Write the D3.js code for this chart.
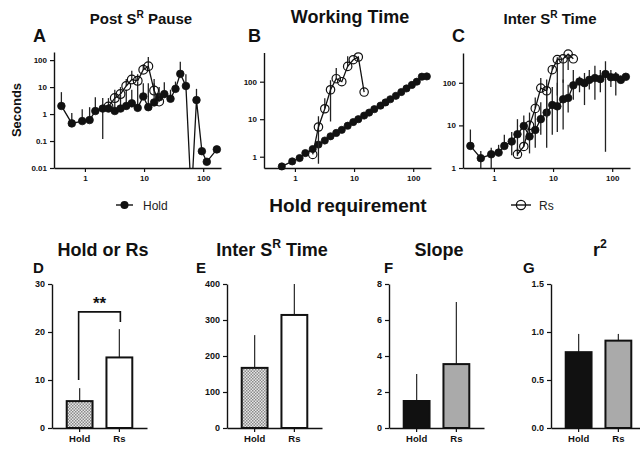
<!DOCTYPE html>
<html><head><meta charset="utf-8">
<script src="https://cdn.jsdelivr.net/npm/d3@7"></script>
<style>html,body{margin:0;padding:0;background:#fff;} svg{display:block;}</style>
</head><body>
<svg id="chart" width="640" height="449"></svg>
<script>
// ---------- DATA ----------
const holdX = [0.4,0.6,0.9,1.2,1.5,2,2.5,3.2,4,5,6.2,7.8,9.7,11.8,14.8,18,22,28,34,41,51,63,77,95,115,140,170];
const rsX   = [2,2.5,3.2,4,5,6.2,7.8,9.7,11.8,14.8,18,22];

// Panel A: Post SR Pause (seconds)
const pauseHold   = [2.0,0.45,0.55,0.6,1.3,1.6,1.6,1.3,1.6,2.0,2.5,1.7,4.5,1.8,2.7,4.2,5.5,3.7,8.6,31,11,0,3.3,0.042,0.017,null,0.049];
const pauseHoldHi = [6.5,1.1,1.5,1.8,4.2,3.9,3.9,6,5.2,8,8,16,14,14,14,10,15,8,16,87,30,null,8.6,null,null,null,null];
const pauseHoldLo = [null,null,null,null,null,0.12,null,null,null,null,null,null,null,null,null,null,null,null,null,null,null,null,null,null,null,null,null];
const pauseRs     = [null,1.9,3.9,5.5,11,19,17,44,59,7.4,2.9,null];
const pauseRsHi   = [null,null,8,10,20,40,30,70,130,20,6,null];
const pauseRsLo   = [null,null,null,null,null,null,null,null,null,null,null,null];

// Panel B: Working Time
const workHold   = [null,0.55,0.75,0.92,1.25,1.6,2.1,2.7,3.5,4.3,5.2,6.7,8.4,10,12.5,15,18.5,23,28,34,42,53,66,82,100,136,138];
const workHoldHi = [null,null,null,null,null,null,null,null,null,null,null,null,null,null,null,null,null,null,null,null,null,null,null,null,null,null,null];
const workHoldLo = [null,null,null,null,null,null,null,null,null,null,null,null,null,null,null,null,null,null,null,null,null,null,null,null,null,null,null];
const workRs     = [1.15,6.2,19,61,120,100,256,385,455,53,null,null];
const workRsHi   = [null,12,36,110,230,null,480,null,null,null,null,null];
const workRsLo   = [null,0.65,null,8.7,null,null,null,null,null,null,null,null];

// Panel C: Inter SR Time
const interHold   = [3.3,1.7,2.1,2.3,3.3,4.2,6.2,9.7,5.5,7.8,14,20,30,28,41,44,87,107,98,117,129,122,160,135,135,117,138];
const interHoldHi = [8,2.5,3,3.5,6,7,14,17,13,20,35,60,80,100,120,90,200,140,170,200,250,200,320,200,180,150,150];
const interHoldLo = [null,1,1,null,null,2,1.9,4,2.2,3,6,3,6,7,8,20,40,60,30,70,40,60,2.4,80,50,null,null];
const interRs     = [null,2.1,3.2,10,25,75,65,203,350,365,470,365];
const interRsHi   = [null,3,4,20,45,130,120,250,400,null,null,null];
const interRsLo   = [null,null,null,null,null,null,15,null,50,100,200,null];

// Bar panels
const groups = ["Hold","Rs"];
const holdOrRs = [5.6,14.7],   holdOrRsErr = [2.7,5.9];
const interTime = [167,314],   interTimeErr = [91,86];
const slope = [1.5,3.55],      slopeErr = [1.5,3.45];
const rSquared = [0.79,0.91],  rSquaredErr = [0.19,0.07];

const logTicksA = [0.01,0.1,1,10,100], logLabelsA = ["0.01","0.1","1","10","100"];
const logTicksBC = [1,10,100],        logLabelsBC = ["1","10","100"];
const xTicks = [1,10,100],            xLabels = ["1","10","100"];

// ---------- DRAW ----------
const FONT = "'Liberation Sans', Arial, Helvetica, sans-serif";
const svg = d3.select('#chart').style('font-family', FONT);
const defs = svg.append('defs');

const pat = defs.append('pattern').attr('id','checker').attr('patternUnits','userSpaceOnUse')
  .attr('width',3).attr('height',3);
pat.append('rect').attr('width',3).attr('height',3).attr('fill','#e6e6e6');
pat.append('rect').attr('width',1.5).attr('height',1.5).attr('fill','#8a8a8a');
pat.append('rect').attr('x',1.5).attr('y',1.5).attr('width',1.5).attr('height',1.5).attr('fill','#8a8a8a');

function styleAxis(g, size) {
  g.select('.domain').attr('stroke','#111').attr('stroke-width',1.4);
  g.selectAll('.tick line').attr('stroke','#111').attr('stroke-width',1.2);
  g.selectAll('.tick text').attr('fill','#111').style('font-family',FONT)
    .style('font-weight','bold').style('font-size', size + 'px');
}

function supText(x, y, size, parts, anchor) {
  const t = svg.append('text').attr('x',x).attr('y',y).attr('text-anchor',anchor||'middle')
    .style('font-weight','bold').style('font-size',size+'px').attr('fill','#111');
  parts.forEach(p => {
    if (p.sup) {
      t.append('tspan').text(p.t).style('font-size',(size*0.68)+'px').attr('dy', -size*0.42);
    } else {
      t.append('tspan').text(p.t).attr('dy', p.after ? size*0.42 : 0);
    }
  });
  return t;
}

let clipN = 0;
function logPanel(cfg) {
  const x = d3.scaleLog().domain([0.3,200]).range([cfg.x0, cfg.x0 + 167]);
  const y = d3.scaleLog().domain(cfg.yDom).range([168, cfg.yTop]);
  const bottom = 168;
  const id = 'clip' + (clipN++);
  defs.append('clipPath').attr('id', id).append('rect')
    .attr('x', cfg.x0).attr('y', cfg.yTop - 10).attr('width', 180).attr('height', bottom - cfg.yTop + 10);
  const g = svg.append('g');

  const ax = g.append('g').attr('transform',`translate(0,${bottom})`)
    .call(d3.axisBottom(x).tickValues(xTicks).tickFormat((d,i)=>xLabels[i]).tickSize(4).tickSizeOuter(0));
  styleAxis(ax, 8);
  const ay = g.append('g').attr('transform',`translate(${cfg.x0},0)`)
    .call(d3.axisLeft(y).tickValues(cfg.yTicks).tickFormat((d,i)=>cfg.yLabels[i]).tickSize(4).tickSizeOuter(0));
  styleAxis(ay, 8);

  const yPos = v => v > 0 ? y(v) : bottom + 30;

  cfg.series.forEach(s => {
    const pts = s.xs.map((xv,i) => ({x:xv, v:s.v[i], hi:s.hi[i], lo:s.lo[i]})).filter(d => d.v !== null);
    const sg = g.append('g').attr('clip-path', `url(#${id})`);
    pts.forEach(d => {
      if (d.hi !== null && d.hi !== undefined)
        sg.append('line').attr('x1',x(d.x)).attr('x2',x(d.x)).attr('y1',yPos(d.v)).attr('y2',y(d.hi))
          .attr('stroke','#222').attr('stroke-width',1.3);
      if (d.lo !== null && d.lo !== undefined)
        sg.append('line').attr('x1',x(d.x)).attr('x2',x(d.x)).attr('y1',yPos(d.v)).attr('y2',y(d.lo))
          .attr('stroke','#222').attr('stroke-width',1.3);
    });
    sg.append('path').datum(pts)
      .attr('d', d3.line().x(d => x(d.x)).y(d => yPos(d.v)))
      .attr('fill','none').attr('stroke','#111').attr('stroke-width',1.3);
    const mg = g.append('g');
    mg.selectAll('circle').data(pts.filter(d => d.v > 0)).join('circle')
      .attr('cx', d => x(d.x)).attr('cy', d => y(d.v))
      .attr('r', s.open ? cfg.rOpen : cfg.rFill)
      .attr('fill', s.open ? 'none' : '#111')
      .attr('stroke','#111').attr('stroke-width', s.open ? 1.2 : 0.8);
  });
}

logPanel({x0:54, yDom:[0.01,200], yTop:52, yTicks:logTicksA, yLabels:logLabelsA, rFill:3.8, rOpen:4.4,
  series:[
    {xs:holdX, v:pauseHold, hi:pauseHoldHi, lo:pauseHoldLo, open:false},
    {xs:rsX, v:pauseRs, hi:pauseRsHi, lo:pauseRsLo, open:true}
  ]});
logPanel({x0:264, yDom:[0.5,600], yTop:52.5, yTicks:logTicksBC, yLabels:logLabelsBC, rFill:3.6, rOpen:4.2,
  series:[
    {xs:holdX, v:workHold, hi:workHoldHi, lo:workHoldLo, open:false},
    {xs:rsX, v:workRs, hi:workRsHi, lo:workRsLo, open:true}
  ]});
logPanel({x0:463, yDom:[1,500], yTop:53, yTicks:logTicksBC, yLabels:logLabelsBC, rFill:3.8, rOpen:4.2,
  series:[
    {xs:holdX, v:interHold, hi:interHoldHi, lo:interHoldLo, open:false},
    {xs:rsX, v:interRs, hi:interRsHi, lo:interRsLo, open:true}
  ]});

// Titles top
supText(141, 24, 15, [{t:'Post S'},{t:'R',sup:true},{t:' Pause',after:true}]);
supText(350, 23, 18, [{t:'Working Time'}]);
supText(550, 24, 15, [{t:'Inter S'},{t:'R',sup:true},{t:' Time',after:true}]);
supText(33, 42, 18, [{t:'A'}], 'start');
supText(248, 42, 18, [{t:'B'}], 'start');
supText(452, 42, 18, [{t:'C'}], 'start');
svg.append('text').attr('transform','translate(21,110) rotate(-90)').attr('text-anchor','middle')
  .style('font-weight','bold').style('font-size','13px').attr('fill','#111').text('Seconds');

// Legend + x title
const lg = svg.append('g');
lg.append('line').attr('x1',116).attr('x2',133).attr('y1',205).attr('y2',205).attr('stroke','#111').attr('stroke-width',1.4);
lg.append('circle').attr('cx',124.5).attr('cy',205).attr('r',4).attr('fill','#111');
lg.append('text').attr('x',143).attr('y',209.5).style('font-size','12px').attr('fill','#222').text('Hold');
lg.append('line').attr('x1',511).attr('x2',531).attr('y1',205).attr('y2',205).attr('stroke','#111').attr('stroke-width',1.4);
lg.append('circle').attr('cx',521).attr('cy',205).attr('r',4.6).attr('fill','none').attr('stroke','#111').attr('stroke-width',1.3);
lg.append('text').attr('x',539).attr('y',209.5).style('font-size','12px').attr('fill','#222').text('Rs');
supText(348, 212, 19, [{t:'Hold requirement'}]);

// ---------- BAR PANELS ----------
function barPanel(cfg) {
  const y = d3.scaleLinear().domain([0, cfg.max]).range([428, 284]);
  const x = d3.scaleBand().domain(groups).range([cfg.x0, cfg.x0 + 95]).paddingInner(0.35).paddingOuter(0.37);
  const g = svg.append('g');
  groups.forEach((k,i) => {
    g.append('line').attr('x1', x(k)+x.bandwidth()/2).attr('x2', x(k)+x.bandwidth()/2)
      .attr('y1', y(cfg.values[i])).attr('y2', y(cfg.values[i] + cfg.errs[i]))
      .attr('stroke','#333').attr('stroke-width',1.3);
  });
  g.selectAll('rect.bar').data(groups).join('rect').attr('class','bar')
    .attr('x', k => x(k)).attr('width', x.bandwidth())
    .attr('y', (k,i) => y(cfg.values[i])).attr('height', (k,i) => 428 - y(cfg.values[i]))
    .attr('fill', (k,i) => cfg.fills[i]).attr('stroke','#111').attr('stroke-width',2);
  const ay = g.append('g').attr('transform',`translate(${cfg.x0},0)`)
    .call(d3.axisLeft(y).tickValues(cfg.ticks).tickFormat((d,i)=>cfg.labels[i]).tickSize(4).tickSizeOuter(0));
  styleAxis(ay, 9);
  const ax = g.append('g').attr('transform','translate(0,428)')
    .call(d3.axisBottom(x).tickSize(4).tickSizeOuter(0).tickPadding(3));
  styleAxis(ax, 9.5);
  return {x, y, g};
}

const D = barPanel({x0:52, max:30, ticks:[0,10,20,30], labels:["0","10","20","30"],
  values:holdOrRs, errs:holdOrRsErr, fills:['url(#checker)','#fff']});
barPanel({x0:227, max:400, ticks:[0,100,200,300,400], labels:["0","100","200","300","400"],
  values:interTime, errs:interTimeErr, fills:['url(#checker)','#fff']});
barPanel({x0:389, max:8, ticks:[0,2,4,6,8], labels:["0","2","4","6","8"],
  values:slope, errs:slopeErr, fills:['#111','#aaaaaa']});
barPanel({x0:551, max:1.5, ticks:[0,0.5,1,1.5], labels:["0.0","0.5","1.0","1.5"],
  values:rSquared, errs:rSquaredErr, fills:['#111','#aaaaaa']});

// significance bracket in D
const bx1 = D.x('Hold') + D.x.bandwidth()/2 - 1, bx2 = D.x('Rs') + D.x.bandwidth()/2 + 1;
D.g.append('path')
  .attr('d', `M${bx1},${D.y(10)}V${D.y(24.2)}H${bx2}V${D.y(22.1)}`)
  .attr('fill','none').attr('stroke','#111').attr('stroke-width',1.6);
D.g.append('text').attr('x',(bx1+bx2)/2).attr('y',D.y(24.2)-3).attr('text-anchor','middle')
  .style('font-weight','bold').style('font-size','17px').attr('fill','#111').text('**');

// bottom titles
supText(103, 256, 18, [{t:'Hold or Rs'}]);
supText(272, 256, 18, [{t:'Inter S'},{t:'R',sup:true},{t:' Time',after:true}]);
supText(439, 256, 18, [{t:'Slope'}]);
supText(600, 256, 18, [{t:'r'},{t:'2',sup:true}]);
supText(33, 273, 15, [{t:'D'}], 'start');
supText(196, 273, 15, [{t:'E'}], 'start');
supText(384, 273, 15, [{t:'F'}], 'start');
supText(523, 273, 15, [{t:'G'}], 'start');
</script></body></html>
